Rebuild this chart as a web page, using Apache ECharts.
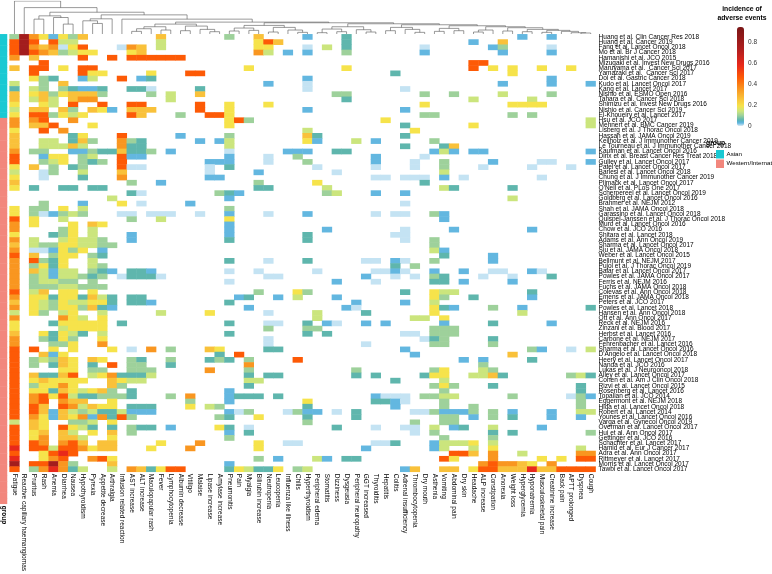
<!DOCTYPE html>
<html>
<head>
<meta charset="utf-8">
<title>Adverse events heatmap</title>
<script src="https://cdn.jsdelivr.net/npm/echarts@6/dist/echarts.min.js"></script>
<style>
  html, body { margin: 0; padding: 0; background: #fff; }
  #main { width: 772px; height: 574px; }
</style>
</head>
<body>
<div id="main"></div>
<script type="text/javascript">
// adverse events (columns, in dendrogram order)
var events = ['Fatigue', 'Reactive capillary haemangiomas', 'Pruritus', 'Rash', 'Anemia', 'Diarrhea',
  'Nausea', 'Hypothyroidism', 'Pyrexia', 'Appetite decrease', 'Arthralgia', 'Infusion related reaction',
  'AST increase', 'ALT increase', 'Maculopapular rash', 'Fever', 'Lymphocytopenia', 'Albumin decrease',
  'Vitiligo', 'Malaise', 'Lipase increase', 'Amylase increase', 'Pneumonitis', 'Pain', 'Myalgia',
  'Bilirubin increase', 'Neutropenia', 'Leucopenia', 'Influenza like illness', 'Chills', 'Hyperthyroidism',
  'Peripheral edema', 'Stomatitis', 'Dizziness', 'Dysgeusia', 'Peripheral neuropathy', 'GGT increased',
  'Thyroiditis', 'Hepatitis', 'Colitis', 'Adrenal insufficiency', 'Thrombocytopenia', 'Dry mouth',
  'Asthenia', 'Vomiting', 'Abdominal pain', 'Dry skin', 'Headache', 'ALP increase', 'Constipation',
  'Anorexia', 'Weight loss', 'Hyperglycemia', 'Hyponatremia', 'Musculoskeletal pain', 'Creatinine increase',
  'Back pain', 'APTT prolonged', 'Dyspnea', 'Cough'];

// studies (rows, top to bottom)
var studies = ['Huang et al. Clin Cancer Res 2018', 'Huang et al. Cancer 2019', 'Fang et al. Lancet Oncol 2018',
  'Mo et al. Br J Cancer 2018', 'Hamanishi et al. JCO 2015', 'Mizugaki et al. Invest New Drugs 2016',
  'Maruyama et al.  Cancer Sci 2017', 'Yamazaki et al.  Cancer Sci 2017', 'Doi et al. Gastric Cancer 2018',
  'Kudo et al. Lancet Oncol 2017', 'Kang et al. Lancet 2017', 'Nishio et al. ESMO Open 2016',
  'Tahara et al. Cancer Sci 2018', 'Shimizu et al. Invest New Drugs 2016', 'Nishio et al. Cancer Sci 2019',
  'El-Khoueiry et al. Lancet 2017', 'Hsu et al. JCO 2017', 'Mehnert et al. BMC Cancer 2019',
  'Lisberg et al. J Thorac Oncol 2018', 'Hassan et al. JAMA Oncol 2019', 'Keilholz et al. J Immunother Cancer 2019',
  'Le Tourneau et al. J Immunother Cancer 2018', 'Kaufman et al. Lancet Oncol 2016',
  'Dirix et al. Breast Cancer Res Treat 2018', 'Gulley et al. Lancet Oncol 2017', 'Patel et al. Lancet Oncol 2017',
  'Barlesi et al. Lancet Oncol 2018', 'Chung et al. J Immunother Cancer 2019', 'Plimack et al. Lancet Oncol 2017',
  "O'Neil et al. PLoS One 2017", 'Scherpereel et al. Lancet Oncol 2019', 'Goldberg et al. Lancet Oncol 2016',
  'Brahmer et al. NEJM 2012', 'Shah et al. JAMA Oncol 2018', 'Garassino et al. Lancet Oncol 2018',
  'Quispel-Janssen et al. J Thorac Oncol 2018', 'Muro et al. Lancet Oncol 2016', 'Chow et al. JCO 2016',
  'Shitara et al. Lancet 2018', 'Adams et al. Ann Oncol 2019', 'Sharma et al. Lancet Oncol 2017',
  'Siu et al. JAMA Oncol 2018', 'Weber et al. Lancet Oncol 2015', 'Bellmunt et al. NEJM 2017',
  'Pujol et al. J Thorac Oncol 2019', 'Balar et al. Lancet Oncol 2017', 'Powles et al. JAMA Oncol 2017',
  'Ferris et al. NEJM 2016', 'Fuchs et al. JAMA Oncol 2018', 'Colevas et al. Ann Oncol 2018',
  'Emens et al. JAMA Oncol 2018', 'Peters et al. JCO 2017', 'Powles et al. Lancet 2018',
  'Hansen et al. Ann Oncol 2018', 'Ott et al. Ann Oncol 2017', 'Reck et al. NEJM 2016',
  'Zinzani et al. Blood 2017', 'Herbst et al. Lancet 2016', 'Carbone et al. NEJM 2017',
  'Fehrenbacher et al. Lancet 2016', 'Sharma et al. Lancet Oncol 2016', "D'Angelo et al. Lancet Oncol 2018",
  'Heery et al. Lancet Oncol 2017', 'Nanda et al. JCO 2016', 'Lukas et al. J Neurooncol 2018',
  'Alley et al. Lancet Oncol 2017', 'Cohen et al. Am J Clin Oncol 2018', 'Rizvi et al. Lancet Oncol 2015',
  'Rosenberg et al. Lancet 2016', 'Topalian et al. JCO 2014', 'Eggermont et al. NEJM 2018',
  'Hida et al. Lancet Oncol 2018', 'Robert et al. Lancet 2014', 'Younes et al. Lancet Oncol 2016',
  'Varga et al. Gynecol Oncol 2019', 'Overman et al. Lancet Oncol 2017', 'Hui et al. Ann Oncol 2017',
  'Gettinger et al. JCO 2016', 'Schachter et al. Lancet 2017', 'Hamid et al. Eur J Cancer 2017',
  'Adra et al. Ann Oncol 2017', 'Rittmeyer et al. Lancet 2017', 'Morris et al. Lancet Oncol 2017',
  'Tawbi et al. Lancet Oncol 2017'];

// 0 = Asian, 1 = Western/International
var studyGroup = [0,0,0,0,0,0,0,0,0,0,0,0,0,0,0,
  1,1,1,1,1,1,1,1,1,1,1,1,1,1,1,1,1,1,1,1,1,1,1,1,1,1,1,1,1,1,1,1,1,1,1,
  1,1,1,1,1,1,1,1,1,1,1,1,1,1,1,1,1,1,1,1,1,1,1,1,1,1,1,1,1,1,1,1,1,1];
var groupNames = ['Asian', 'Western/International'];

// incidence, coded by level
var levelValue = { a: 0.005, b: 0.03, c: 0.06, d: 0.10, e: 0.14, f: 0.19, g: 0.26, h: 0.35, i: 0.46, j: 0.58, k: 0.78 };

// per study: "column+level" for every reported event
var cellCodes = [
  '0d 1k 2h 3f 4b 5f 6d 7g 15g 22d 25g 30b 34c 52b 55b',
  '0i 1k 2i 4i 5e 6e 15e 25f 26i 27g 34c 47b 50g',
  '0i 1k 2h 3g 4h 5a 6f 7i 11a 12h 13g 15e 25f 26f 30a 32e 34c 42a 49b 50d 55a',
  '0i 1k 2i 3h 4g 5d 6e 7f 8f 12f 13g 25h 26e 28b 30b 34d 42b 50b 55b',
  '0h 2g 7i 10i 12i 13i 14i 15i 16i 17i',
  '3i 47i 48i',
  '0g 2i 3i 5f 7i 8i 24f 34f 47i 49f 51f 54f 57f',
  '2i 7i 8f 9f 14f 18i 19i 39c 51f',
  '2f 3d 4c 7b 8e 11i 13b 14c 30b 55b',
  '0e 3d 5g 26b 30a 50b 55b 59b',
  '0c 2e 3d 5d 6c 7b 8b 9c 12c 13c 14a 19c 30a 40a',
  '0g 2f 3g 4d 5f 6g 7g 8g 9d 14d 16e 19g 33d 34d 42d 45d 50e 55d',
  '0g 2e 3g 4e 6g 7h 8h 16e 34c 47e 53e',
  '0f 3f 4e 6i 9i 12i 13i 19i 22f 26f 42f 51f 52f 53f 54f',
  '0e 2g 3g 5g 6d 8g 9f 10b 12g 13g 14g 19i 22f 30b 40b',
  '0f 2i 3i 4d 5f 6e 7f 12i 13g 17d 20i 21i 22f 42d 43d 51d 53d',
  '0h 2h 3i 6h 22f 23i 24d 38f 59e',
  '0h 2g 3g 4i 8f 22f 40c 47f 59e',
  '0f 3i 5h 30e 41f',
  '0g 6c 7f 11i 17b 22d 30g 31c 40c',
  '0g 3e 4e 6c 7g 8d 11h 12d 13c 19b 21b 22e 30f 31b 35e 37b 43d',
  '0g 3e 4e 5e 6g 7e 11h 12c 13c 22e 40c 44c 45g',
  '0h 2d 3d 6b 7b 8d 9c 10c 11g 12c 13c 14d 16b 22a 28b 29b 30b 33c 34c 43b 44e 45b 47b 48b 59b',
  '0i 3b 4f 5f 7d 8e 11i 12b 13b 22b 26a 29d 37b 42a',
  '0i 3d 4e 5f 7d 8c 9d 11i 20b 21b 22b 26a 30d 37b 41a 44d 49b 54a 55a 59b',
  '0f 2g 4d 6c 7d 11i 12a 13a 20a 22c 31a 37a 41a 44d 48a 53a 57a',
  '0e 3a 4d 7e 11g 20a 25b 33a 44e',
  '0f 3a 7c 11h 20b 21b 37a 38a 40a 41a 42a 44b 46a 54a',
  '0g 12d 15b 25d 31f 42c',
  '0f 2c 5c 6c 8c 9c 25c 26c 32e 44e 45c 51c',
  '12c 13a 21d 22c 23b 32d 33e 37b 40b',
  '10e 22b 51e',
  '3d 7b 11f 13a 18b 40a',
  '0f 2d 3d 5f 7e 22d',
  '0f 2d 3a 4b 5d 6e 7d 11a 12a 14a 15a 16a 19a 22b 26a 30b 37a 39a 40a 43d 44b',
  '0i 2f 5e 12d 15e 22f 44b',
  '0h 2f 6f 8g 9f 22b',
  '0h 5d 6f 8e 22b 32b 40a 45b 53b',
  '0f 4c 5d 6f 8e 12b 22b 30c 39a 40a',
  '0h 2e 5e 6f 7e 8e 9d 12b 22c 30c 40a 43d',
  '0g 2e 3d 4d 5f 6f 7e 8e 9d 10d 43d',
  '0h 2a 3a 4b 5f 6d 7f 9b 43e 44b',
  '0i 2g 4d 5f 6f 8d 9c 44c 49b',
  '0h 2i 3d 4c 5f 8e 22c 26a 30c 36a 37a 39b 40a 43d 49b',
  '0h 2d 3f 4c 5f 8e 9d 39c 41d',
  '0h 2g 3e 4b 5e 6e 8d 9c 10b 12c 13c 14b 22a 25a 31a 37a 38a 39b 40a 43b 46b 49a 50a 53b 54a',
  '0h 2d 3e 4b 5e 6e 7d 8c 9d 11a 12c 13c 14c 15a 26a 27a 36b 39a 41a 43d 44c 48a 51a 55c',
  '0h 2d 3e 4e 5d 6d 8d 22a 33b 37a 43c 44c 46b 51b',
  '0h 2d 3d 4d 5e 6e 7d 8d 9d',
  '0i 2e 3g 5f 6f 8f 25d 29f 30d 40c 43f 44e 45e 53c',
  '0h 2f 3f 4c 5f 6f 7c 8g 9e 10c 12c 13c 23b 24c 27b 29e 33b 43f 44d 47c 53b',
  '0g 2f 3e 4d 5f 6e 7e 8f 9f 10c 12c 13c 14b 22c 35b 40b 43e',
  '0h 2f 3e 4d 5f 6f 7d 8g 9c 10b 24b 34b 35a 43f 44c 45b 49d 52b 59c',
  '0e 2f 3d 5e 6f 9e 15e 20f 26a 31e 36c 43f 52e',
  '0h 5h 6f 7e 9f 31e 41e 42e 44f',
  '0f 4c 5f 6f 7f 8f 9f 11c 22c 26a 27a 30c 32b 33a 36b 38b 44b 49c 55b',
  '0f 5e 6f 7f 8f 9f 26d 30d 31d 43d 44d 45d',
  '0g 3f 4c 5f 6e 7c 9e 22c 30c 32c 40a 41a 43d 44d 45d',
  '0h 3d 4c 5f 6d 9f 26a 42a 43c 44d 49c',
  '0h 4d 5d 6f 9h 26a 36a 43d 44d 49d',
  '0i 2i 4f 6f 10f 12a 14h 16d 20g 21f 26c 27c 40b 53d 54b 57a 59e',
  '0i 3g 4b 5f 21c 23i 41b 51g',
  '0i 2d 3e 4d 5g 6f 8g 9f 12d 13c 16d 20c 21d 22c 24d 29i 46b 48b 53c',
  '0i 2d 4c 5g 6f 8c 10i 12d 13d 16c 24h 48d',
  '0i 5f 6f 8d 9d 12d 13d 14d 20h 24d 35d 43d 44f 48e 49d',
  '0i 2g 3c 4c 5g 6i 8e 9f 10h 11c 12c 13c 14e 24c 26c 27c 35c 37c 42c 43f 44f 47e 48e 49g 50c 57d 58e 59c',
  '0i 2f 3g 4f 5f 6f 7f 10g 11f 12e 13e 24e 25e 39c 44e',
  '0i 2d 3f 4f 5h 6f 10g 11d 24c 43d 44f 45d 49c 58c',
  '0i 2f 3f 4c 5g 6f 7e 8f 9g 10d 12c 22b 44d 58c',
  '0i 2h 3i 4f 5i 6e 7c 8c 9d 10d 11d 12c 16d 18h 22b 23c 24c 25c 27c 37b 38a 39a 40a 42d 43d 44e 45e 51d 57a 58d 59b',
  '0i 2h 3i 5h 6g 7g 10f 18d 22b 30f 37c 38c 39b 40a 44d 58d',
  '0i 2i 3g 5i 6h 7e 8g 9f 10f 12c 13c 14c 18f 20e 21d 30c 39b 44d 47d 58d',
  '0i 2i 3g 4b 5g 6e 7d 8e 9c 10c 11e 12b 13b 14b 22b 23a 24d 28a 29d 30b 31b 33a 35c 41a 42a 43d 44b 45b 46b 47d 49d 51b 55b 58e 59e',
  '0i 2h 3f 4b 5g 6f 7h 8b 9h 10c 11i 12d 21d 22c 25f 30c 35c 44d 45d 47b 49d 51c 55b 58b',
  '0e 2g 3f 6d 7d 8e 10f 30d 41d 44d 45d',
  '0i 2g 3f 5i 6f 7e 8c 10c 12d 13c 14c 16b 21f 22c 24a 33c 37a 40a 41a 43e 45b 46c 49e 54b',
  '0i 2f 3g 5g 6e 8f 10g 12d 22b 24c 41a 43d 49c 51c 59d',
  '0i 2f 3h 5g 6g 7e 10f 22d 44d 49d',
  '0i 2i 3h 5h 6i 7g 9g 10g 15f 19h 25f 28a 29a 37a 38a 39c 43b 44e 45e 46e 47f 49e',
  '0j 2i 3i 4e 5i 6i 7h 8f 9g 10g 14f 18h 25f 36b 43b 44e 47e 49f 58e',
  '0i 3f 4i 5j 6i 45i 46i 47g 49h 52e 58h 59h',
  '0j 3f 4h 5i 8h 9i 10f 25d 27b 31e 32b 34c 35c 44i 45f 49h 54f 56f 58i 59i',
  '0k 2i 3i 4k 5h 6d 10g 22b 48h 49i 50h 51h 52g 53f 55h',
  '0i 2d 3h 4j 5h 6c 7e 10e 12h 13g 14c 15f 16i 17i 22c 23f 24e 25c 26c 27f 29d 30e 40b 41g 44g 45g 47f 48i 49i 50g 51g 52g 53j 54g 55g 56i 57i 58i 59i'
];

// column clustering: [height, left, right], leaves are column indices
var colTree = [1.0, 0, [0.8, 1, [0.66,
  [0.55, [0.45, 2, 3], [0.5, 4, [0.3, 5, 6]]],
  [0.58, [0.46, [0.4, 7, [0.32, 8, 9]], 10], [0.45, 11,
    [0.36,
      [0.3, [0.22, [0.16, [0.08, 12, 13], 14], [0.12, 15, 16]],
            [0.24, [0.10, 17, 18], [0.14, 19, [0.07, 20, 21]]]],
      [0.34,
        [0.26, [0.18, [0.09, 22, 23], [0.11, 24, 25]],
               [0.2, [0.06, 26, 27], [0.12, 28, [0.05, 29, 30]]]],
        [0.31,
          [0.22, [0.15, [0.04, 31, 32], [0.07, 33, 34]], [0.13, 35, [0.06, 36, 37]]],
          [0.28,
            [0.2, [0.1, 38, 39], [0.14, 40, [0.05, 41, 42]]],
            [0.25, [0.17, [0.08, 43, 44], [0.1, 45, 46]],
                   [0.22, [0.12, [0.06, 47, 48], 49],
                          [0.19, [0.09, 50, 51], [0.14, [0.07, 52, 53],
                                 [0.11, [0.05, 54, 55], [0.08, 56, [0.04, 57, [0.03, 58, 59]]]]]]]]]]]]]]]]];

var fontName = 'Liberation Sans';

var cells = [];
cellCodes.forEach(function (row, r) {
  row.split(' ').forEach(function (tok) {
    if (!tok) return;
    cells.push([parseInt(tok, 10), r, levelValue[tok.charAt(tok.length - 1)]]);
  });
});

var groupCells = studyGroup.map(function (g, r) { return [0, r, g]; });

// dendrogram links
var links = [];
function walk(node) {
  if (typeof node === 'number') return { x: node, h: 0 };
  var a = walk(node[1]), b = walk(node[2]), h = node[0];
  links.push({ coords: [[a.x, a.h], [a.x, h], [b.x, h], [b.x, b.h]] });
  return { x: (a.x + b.x) / 2, h: h };
}
walk(colTree);

// colour ramp of the incidence scale
var scaleMax = 0.94;
var rampStops = [[0, '#d9ecf6'], [0.02, '#82c6e8'], [0.035, '#54b0dc'], [0.06, '#5fb6ad'], [0.1, '#9ed19b'],
  [0.14, '#cbe57d'], [0.19, '#f6e34b'], [0.26, '#f9c13a'], [0.35, '#f99620'], [0.46, '#fd5a06'],
  [0.58, '#e8291b'], [0.72, '#b21f1f'], [0.94, '#7a1616']];
function hex(c) { return [parseInt(c.substr(1, 2), 16), parseInt(c.substr(3, 2), 16), parseInt(c.substr(5, 2), 16)]; }
var ramp = [];
for (var k = 0; k <= 94; k++) {
  var v = k / 100, s = 0;
  while (s < rampStops.length - 2 && v > rampStops[s + 1][0]) s++;
  var c0 = hex(rampStops[s][1]), c1 = hex(rampStops[s + 1][1]);
  var t = Math.min(1, Math.max(0, (v - rampStops[s][0]) / (rampStops[s + 1][0] - rampStops[s][0])));
  ramp.push('rgb(' + [0, 1, 2].map(function (q) { return Math.round(c0[q] + (c1[q] - c0[q]) * t); }).join(',') + ')');
}

var hmTop = 34.3, hmHeight = 469.5, hmLeft = 9.6, hmWidth = 586;
var barLeft = 737, barTop = 27, barHeight = 99;

var myChart = echarts.init(document.getElementById('main'));

var option = {
  animation: false,
  textStyle: { fontFamily: fontName },
  grid: [
    { left: hmLeft, top: hmTop, width: hmWidth, height: hmHeight },
    { left: 0, top: hmTop, width: 7, height: hmHeight },
    { left: barLeft, top: barTop, width: 7, height: barHeight },
    { left: hmLeft, top: 1, width: hmWidth, height: 33 }
  ],
  xAxis: [
    { type: 'category', gridIndex: 0, data: events, position: 'bottom',
      axisLine: { show: false }, axisTick: { show: false }, splitLine: { show: false },
      axisLabel: { rotate: -90, interval: 0, fontSize: 6.5, margin: 2, color: '#000' } },
    { type: 'category', gridIndex: 1, data: ['group'], position: 'bottom',
      axisLine: { show: false }, axisTick: { show: false },
      axisLabel: { rotate: -90, interval: 0, fontSize: 6.5, margin: 2, color: '#000', fontWeight: 'bold' } },
    { type: 'value', gridIndex: 2, show: false },
    { type: 'value', gridIndex: 3, min: -0.5, max: 59.5, show: false }
  ],
  yAxis: [
    { type: 'category', gridIndex: 0, data: studies, inverse: true, position: 'right',
      axisLine: { show: false }, axisTick: { show: false }, splitLine: { show: false },
      axisLabel: { interval: 0, fontSize: 6.5, margin: 3, color: '#000' } },
    { type: 'category', gridIndex: 1, data: studies, inverse: true, show: false },
    { type: 'value', gridIndex: 2, min: 0, max: scaleMax, interval: 0.2, position: 'right',
      axisLine: { show: false }, axisTick: { show: false }, splitLine: { show: false },
      axisLabel: { fontSize: 6.5, margin: 4, color: '#333', showMaxLabel: false } },
    { type: 'value', gridIndex: 3, min: 0, max: 1, show: false }
  ],
  visualMap: [
    { type: 'continuous', seriesIndex: 0, min: 0, max: scaleMax, calculable: false,
      left: barLeft, top: barTop, itemWidth: 7, itemHeight: barHeight, padding: 0,
      inRange: { color: ramp } },
    { type: 'piecewise', seriesIndex: 1, inverse: true, selectedMode: false, align: 'left',
      left: 716, top: 150, itemWidth: 8, itemHeight: 8.5, itemGap: 1, textGap: 2.5, padding: 0,
      itemSymbol: 'rect', textStyle: { fontSize: 6.2, color: '#000' },
      pieces: [
        { value: 0, label: groupNames[0], color: '#19c9d3' },
        { value: 1, label: groupNames[1], color: '#f2877d' }
      ] }
  ],
  graphic: [
    { type: 'text', x: 742, y: 5, style: { text: 'incidence of\nadverse events', textAlign: 'center',
      fontSize: 6.8, fontWeight: 'bold', lineHeight: 8.5, fill: '#000', fontFamily: fontName } },
    { type: 'text', x: 706, y: 140, style: { text: 'group', fontSize: 6.8, fontWeight: 'bold',
      fill: '#000', fontFamily: fontName } }
  ],
  series: [
    { type: 'heatmap', xAxisIndex: 0, yAxisIndex: 0, data: cells, silent: true },
    { type: 'heatmap', xAxisIndex: 1, yAxisIndex: 1, data: groupCells, silent: true },
    { type: 'lines', coordinateSystem: 'cartesian2d', xAxisIndex: 3, yAxisIndex: 3, polyline: true,
      silent: true, data: links, lineStyle: { color: '#555', width: 0.6, opacity: 1 } }
  ]
};

myChart.setOption(option);
</script>
</body>
</html>
